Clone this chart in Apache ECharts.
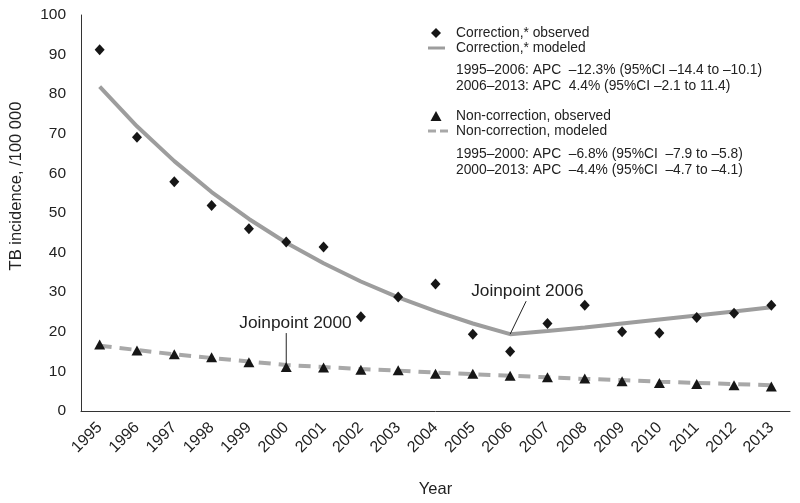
<!DOCTYPE html>
<html><head><meta charset="utf-8">
<script src="https://cdn.jsdelivr.net/npm/echarts@6/dist/echarts.min.js"></script>
<style>html,body{margin:0;padding:0;background:#fff}#c{width:800px;height:503px}</style>
</head><body><div id="c"></div>
<script>
var years = ['1995','1996','1997','1998','1999','2000','2001','2002','2003','2004','2005','2006','2007','2008','2009','2010','2011','2012','2013'];
var corrObserved = [91.2,69.1,57.9,51.9,46.0,42.7,41.4,23.8,28.8,32.1,19.4,15.0,22.1,26.7,20.0,19.7,23.6,24.7,26.7];
var corrModeled  = [81.9,71.9,63.1,55.3,48.5,42.5,37.3,32.7,28.7,25.2,22.1,19.4,20.2,21.1,22.1,23.1,24.1,25.1,26.2];
var nonObserved  = [16.8,15.3,14.3,13.6,12.3,11.1,11.0,10.4,10.3,9.4,9.4,8.9,8.5,8.2,7.5,7.1,6.8,6.5,6.2];
var nonModeled   = [16.5,15.4,14.3,13.4,12.5,11.6,11.1,10.6,10.2,9.7,9.3,8.9,8.5,8.1,7.8,7.4,7.1,6.8,6.5];
var yTicks = [0,10,20,30,40,50,60,70,80,90,100];
var legendNames = ['Correction,* observed','Correction,* modeled','Non-correction, observed','Non-correction, modeled'];
var apcCorr = ['1995\u20132006: APC  \u201312.3% (95%CI \u201314.4 to \u201310.1)','2006\u20132013: APC  4.4% (95%CI \u20132.1 to 11.4)'];
var apcNon = ['1995\u20132000: APC  \u20136.8% (95%CI  \u20137.9 to \u20135.8)','2000\u20132013: APC  \u20134.4% (95%CI  \u20134.7 to \u20134.1)'];

var FONT = '"Liberation Sans", Arial, sans-serif';
var MARK = '#161616', LINE1 = '#9d9d9d', LINE2 = '#a8a8a8';
var chart = echarts.init(document.getElementById('c'), null, {renderer:'canvas'});
chart.setOption({
  animation: false,
  backgroundColor: '#fff',
  grid: {left: 79, right: 10, top: 15, bottom: 92},
  xAxis: {
    type:'category', data: years, boundaryGap: true,
    axisLine:{lineStyle:{color:'#333', width:1}}, axisTick:{show:false},
    axisLabel:{rotate:45, fontFamily:FONT, fontSize:16, color:'#222', margin:14, interval:0},
    name:'Year', nameLocation:'middle', nameGap:70,
    nameTextStyle:{fontFamily:FONT, fontSize:16.5, color:'#222'}
  },
  yAxis: {
    type:'value', min: yTicks[0], max: yTicks[yTicks.length-1], interval: 10,
    axisLine:{show:true, lineStyle:{color:'#333', width:1}}, axisTick:{show:false},
    splitLine:{show:false},
    axisLabel:{fontFamily:FONT, fontSize:15.5, color:'#222', margin:15},
    name:'TB incidence, /100 000', nameLocation:'middle', nameGap:56, nameRotate:90,
    nameTextStyle:{fontFamily:FONT, fontSize:16.5, color:'#222', padding:[0,0,0,54]}
  },
  series: [
    {name:legendNames[1], type:'line', data: corrModeled, symbol:'none', z:1,
     lineStyle:{color:LINE1, width:4}, itemStyle:{color:LINE1}},
    {name:legendNames[3], type:'line', data: nonModeled, symbol:'none', z:1,
     lineStyle:{color:LINE2, width:4, type:[12,8]}, itemStyle:{color:LINE2}},
    {name:legendNames[0], type:'scatter', data: corrObserved, symbol:'diamond', symbolSize:[10,11], z:3,
     itemStyle:{color:MARK, opacity:1}},
    {name:legendNames[2], type:'scatter', data: nonObserved, symbol:'triangle', symbolSize:[11,10], z:3,
     itemStyle:{color:MARK, opacity:1}}
  ]
});

function px(i, v){ return chart.convertToPixel({gridIndex:0}, [years[i], v]); }
var p2000 = px(5, nonModeled[5]);
var p2006 = px(11, corrModeled[11]);
var txt = {fontFamily: FONT, fontSize: 17.3, fill: '#222', textVerticalAlign:'middle'};
var graphics = [
  {type:'line', shape:{x1:p2000[0], y1:p2000[1]-32, x2:p2000[0], y2:p2000[1]-1}, style:{stroke:'#222', lineWidth:1}, z:10},
  {type:'text', x:p2000[0]-47, y:p2000[1]-42, style:Object.assign({text:'Joinpoint 2000'}, txt), z:10},
  {type:'line', shape:{x1:p2006[0]+16, y1:p2006[1]-33, x2:p2006[0], y2:p2006[1]}, style:{stroke:'#222', lineWidth:1}, z:10},
  {type:'text', x:p2006[0]-39, y:p2006[1]-43, style:Object.assign({text:'Joinpoint 2006'}, txt), z:10}
];
// legend
var lx = 456, ix = 436;
var lt = {fontFamily: FONT, fontSize: 13.8, fill: '#222', textVerticalAlign:'middle'};
graphics.push({type:'polygon', shape:{points:[[ix,28],[ix+5,33],[ix,38],[ix-5,33]]}, style:{fill:MARK}});
graphics.push({type:'text', x:lx, y:33, style:Object.assign({text:legendNames[0]}, lt)});
graphics.push({type:'line', shape:{x1:428, y1:48, x2:445, y2:48}, style:{stroke:LINE1, lineWidth:3}});
graphics.push({type:'text', x:lx, y:48, style:Object.assign({text:legendNames[1]}, lt)});
graphics.push({type:'polygon', shape:{points:[[ix,111],[ix+5.5,121],[ix-5.5,121]]}, style:{fill:MARK}});
graphics.push({type:'text', x:lx, y:116, style:Object.assign({text:legendNames[2]}, lt)});
graphics.push({type:'line', shape:{x1:428, y1:131, x2:436, y2:131}, style:{stroke:LINE2, lineWidth:3}});
graphics.push({type:'line', shape:{x1:440, y1:131, x2:448, y2:131}, style:{stroke:LINE2, lineWidth:3}});
graphics.push({type:'text', x:lx, y:131, style:Object.assign({text:legendNames[3]}, lt)});
[[apcCorr,70],[apcNon,154]].forEach(function(g){
  g[0].forEach(function(t, k){
    graphics.push({type:'text', x:lx, y:g[1]+k*16, style:Object.assign({text:t}, lt)});
  });
});
chart.setOption({graphic: graphics});
</script></body></html>
